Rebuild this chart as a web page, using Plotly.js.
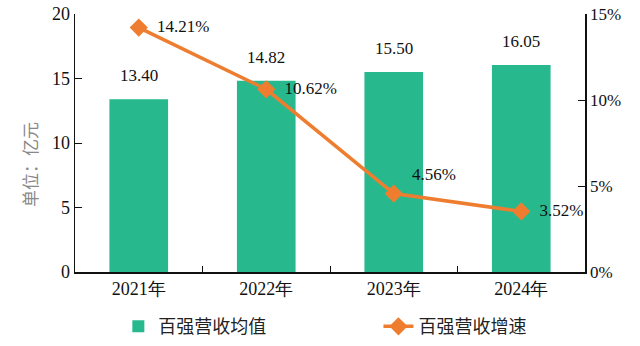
<!DOCTYPE html>
<html><head><meta charset="utf-8">
<script src="https://cdn.plot.ly/plotly-3.0.1.min.js"></script>
<style>body{margin:0;background:#fff}#c{width:640px;height:346px}</style>
</head><body><div id="c"></div>
<script>
const years = ['2021年','2022年','2023年','2024年'];
const avgRevenue = [13.40, 14.82, 15.50, 16.05];
const growthRate = [14.21, 10.62, 4.56, 3.52];
const avgLabels = ['13.40','14.82','15.50','16.05'];
const growthLabels = ['14.21%','10.62%','4.56%','3.52%'];
const font = "Liberation Serif";
const cjk = "Noto Sans CJK SC";

const traces = [
  {type:'bar', x:years, y:avgRevenue, name:'百强营收均值', marker:{color:'#27B88E'},
   width:0.46, legend:'legend'},
  {type:'scatter', mode:'lines+markers+text', x:years, y:growthRate, yaxis:'y2',
   name:'百强营收增速', line:{color:'#EE7D2F', width:3.5},
   marker:{symbol:'diamond', size:14, color:'#EE7D2F'},
   text:growthLabels.map(t=>'  '+t), textposition:['middle right','middle right','top right','middle right'],
   cliponaxis:false, textfont:{family:font, size:17, color:'#111'}, legend:'legend2'}
];
const annotations = years.map((yr,i)=>({x:yr, y:avgRevenue[i], xref:'x', yref:'y', text:avgLabels[i],
  showarrow:false, yanchor:'bottom', yshift:12, font:{family:font, size:17, color:'#111'}}));
annotations.push({xref:'paper', yref:'paper', x:-0.088, y:0.415, text:'单位：亿元', textangle:-90,
  showarrow:false, xanchor:'center', yanchor:'middle', font:{family:cjk, size:17, color:'#888'}});
const legFont = {family:cjk, size:18, color:'#222'};
const layout = {
  width:640, height:346, margin:{l:75, r:55, t:14, b:74, autoexpand:false},
  paper_bgcolor:'#fff', plot_bgcolor:'#fff',
  font:{family:font, size:17, color:'#111'},
  showlegend:true, annotations:annotations,
  legend:{orientation:'h', x:0.085, xanchor:'left', y:-0.14, yanchor:'top', font:legFont},
  legend2:{orientation:'h', x:0.595, xanchor:'left', y:-0.14, yanchor:'top', font:legFont},
  xaxis:{showline:true, linecolor:'#111', linewidth:1.5, ticks:'inside', tickson:'boundaries',
    ticklen:6, tickcolor:'#111', showgrid:false, tickfont:{family:font, size:18}},
  yaxis:{range:[0,20], dtick:5, showline:true, linecolor:'#111', linewidth:1.5, ticks:'inside',
    ticklen:7, tickcolor:'#111', showgrid:false, zeroline:false, tickfont:{family:font, size:18}},
  yaxis2:{range:[0,15], dtick:5, overlaying:'y', side:'right', ticksuffix:'%', showline:true,
    linecolor:'#111', linewidth:1.5, ticks:'inside', ticklen:7, tickcolor:'#111', showgrid:false, zeroline:false,
    tickfont:{family:font, size:17}}
};
Plotly.newPlot('c', traces, layout, {displayModeBar:false, staticPlot:true});
</script></body></html>
